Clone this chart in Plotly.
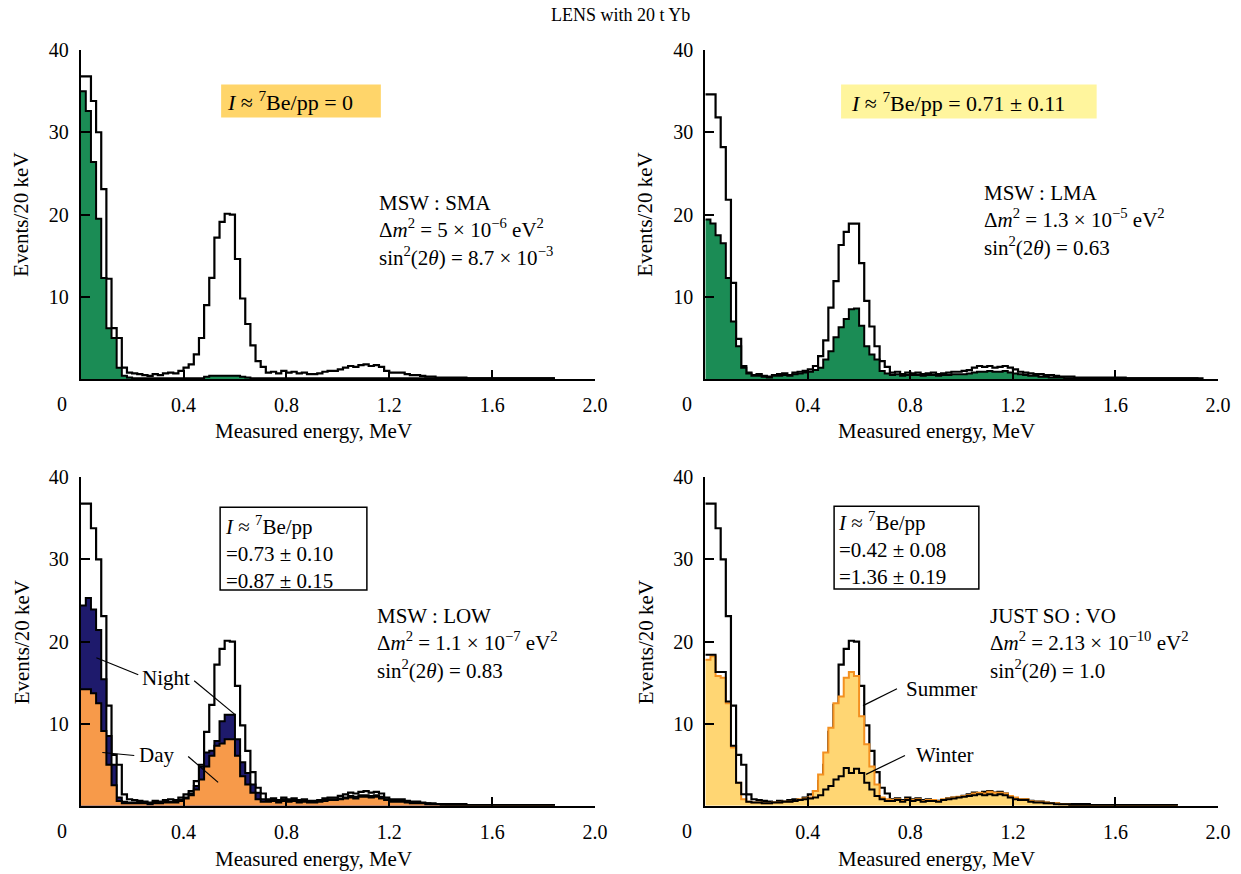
import plotly.graph_objects as go

# ---------------- data (events per 20 keV bin, bins start at 0 MeV) ----------------
bin_width_mev = 0.02

total_std = [36.8, 36.8, 33.8, 30.0, 23.1, 12.2, 6.2, 5.0, 1.4, 0.8,
             0.7, 0.6, 0.5, 0.4, 0.6, 0.5, 0.7, 0.8, 0.7, 1.0,
             1.4, 1.8, 3.0, 5.0, 9.0, 12.3, 17.2, 19.1, 20.1, 20.0,
             14.6, 9.8, 6.7, 4.1, 2.2, 1.5,
             0.8, 0.9, 0.7, 1.0, 0.8, 0.9, 0.7, 0.8, 0.6, 0.6, 0.7, 0.9, 1.0, 1.0,
             1.2, 1.4, 1.6, 1.5, 1.7, 1.8, 1.6, 1.7, 1.5, 1.0, 0.8, 0.8, 0.8,
             0.6, 0.5, 0.5, 0.4, 0.3, 0.3, 0.2, 0.2, 0.2, 0.2, 0.2, 0.2,
             0.1, 0.1, 0.1, 0.1, 0.1, 0.1, 0.1, 0.1, 0.1, 0.1, 0.1, 0.1, 0.1, 0.1, 0.1, 0.1, 0.1]

sma_osc = [35.0, 32.6, 26.4, 19.5, 12.3, 6.2, 5.0, 1.4, 0.4, 0.2,
           0.1, 0.1, 0.1, 0.1, 0.1, 0.1, 0.1, 0.1, 0.1, 0.1,
           0.1, 0.1, 0.1, 0.1, 0.3, 0.4, 0.4, 0.4, 0.4, 0.4,
           0.4, 0.3, 0.2, 0.1, 0.1, 0.1] + [0.1] * 56

total_lma = [34.6, 34.6, 31.8, 28.2, 21.8, 11.7, 4.9, 1.6, 0.8, 0.5,
             0.6, 0.4, 0.3, 0.5, 0.6, 0.7, 0.5, 0.8, 0.9, 1.0,
             1.2, 1.6, 2.8, 4.7, 8.7, 11.9, 16.3, 17.9, 18.9, 18.9,
             14.1, 9.5, 6.4, 4.0, 2.2, 1.5,
             0.8, 0.9, 0.6, 0.8, 0.7, 0.8, 0.6, 0.7, 0.8, 0.6, 0.7, 0.8, 0.9, 0.9,
             1.0, 1.1, 1.4, 1.6, 1.5, 1.6, 1.4, 1.5, 1.6, 1.4, 1.2, 0.9, 0.8,
             0.7, 0.6, 0.6, 0.5, 0.5, 0.4, 0.3, 0.3, 0.3,
             0.2, 0.2, 0.2, 0.2, 0.2, 0.2, 0.2, 0.2, 0.2, 0.2,
             0.1, 0.1, 0.1, 0.1, 0.1, 0.1, 0.1, 0.1, 0.1, 0.1, 0.1, 0.1, 0.1, 0.1]

lma_osc = [19.4, 18.9, 17.5, 16.5, 12.3, 7.0, 4.0, 1.4, 0.7, 0.4,
           0.4, 0.3, 0.2, 0.4, 0.4, 0.5, 0.4, 0.6, 0.7, 0.8,
           0.9, 1.1, 1.4, 2.4, 3.4, 5.1, 6.3, 7.3, 8.5, 8.6,
           6.5, 4.0, 3.0, 2.4, 1.0, 0.7,
           0.5, 0.6, 0.4, 0.5, 0.5, 0.5, 0.4, 0.5, 0.5, 0.4, 0.5, 0.5, 0.6, 0.6,
           0.6, 0.7, 0.8, 0.9, 0.9, 1.0, 0.9, 0.9, 1.0, 0.8, 0.7, 0.6, 0.5,
           0.4, 0.4, 0.3, 0.3, 0.2, 0.2, 0.2] + [0.1] * 27

night_low = [24.4, 25.3, 23.9, 21.4, 15.4, 8.5, 5.0, 1.0, 0.5, 0.4,
             0.4, 0.4, 0.3, 0.3, 0.4, 0.4, 0.5, 0.5, 0.5, 0.7,
             1.0, 1.5, 2.4, 4.8, 6.5, 6.7, 7.9, 10.3, 11.1, 11.1,
             8.1, 5.3, 4.0, 2.6, 1.6, 0.8,
             0.6, 0.7, 0.5, 0.8, 0.6, 0.7, 0.5, 0.6, 0.5, 0.5, 0.6, 0.7, 0.8, 0.8,
             0.9, 1.0, 1.2, 1.1, 1.3, 1.3, 1.2, 1.3, 1.1, 0.8, 0.6, 0.6, 0.6,
             0.5, 0.4, 0.4, 0.3, 0.3, 0.2, 0.2, 0.2] + [0.1] * 21

day_low = [14.2, 14.2, 13.7, 12.5, 9.1, 5.0, 2.5, 0.6, 0.3, 0.3,
           0.3, 0.3, 0.3, 0.2, 0.3, 0.3, 0.4, 0.4, 0.4, 0.6,
           0.9, 1.3, 2.0, 3.2, 4.8, 6.1, 7.3, 7.6, 8.1, 8.1,
           6.1, 3.6, 2.6, 1.6, 0.8, 0.5,
           0.5, 0.6, 0.4, 0.6, 0.5, 0.6, 0.4, 0.5, 0.4, 0.4, 0.5, 0.6, 0.7, 0.7,
           0.8, 0.9, 1.0, 0.9, 1.1, 1.1, 1.0, 1.1, 0.9, 0.7, 0.5, 0.5, 0.5,
           0.4, 0.3, 0.3, 0.3, 0.2, 0.2, 0.2, 0.1] + [0.1] * 21

summer_vo = [17.8, 18.2, 15.8, 15.6, 12.5, 7.1, 2.8, 0.8, 0.5, 0.4,
             0.4, 0.3, 0.3, 0.4, 0.4, 0.5, 0.5, 0.6, 0.8, 0.9,
             1.0, 1.8, 3.8, 6.5, 9.5, 12.5, 13.3, 15.6, 16.3, 15.8,
             10.9, 7.5, 4.8, 2.6, 1.0, 0.8,
             0.7, 0.8, 0.6, 0.8, 0.7, 0.8, 0.6, 0.7, 0.7, 0.6, 0.8, 0.9, 1.0, 1.1,
             1.2, 1.3, 1.5, 1.6, 1.5, 1.7, 1.6, 1.6, 1.5, 1.2, 1.0, 0.8, 0.8,
             0.6, 0.5, 0.5, 0.4, 0.3, 0.3, 0.2, 0.2] + [0.1] * 21

winter_vo = [18.4, 18.4, 16.3, 16.3, 12.7, 7.3, 2.8, 1.4, 0.5, 0.4,
             0.4, 0.3, 0.3, 0.4, 0.4, 0.5, 0.5, 0.6, 0.7, 0.8,
             0.9, 1.0, 1.3, 2.0, 2.4, 3.2, 3.6, 4.6, 4.0, 4.5,
             4.0, 2.8, 2.0, 1.2, 0.8, 0.6,
             0.6, 0.7, 0.5, 0.7, 0.6, 0.7, 0.5, 0.6, 0.6, 0.5, 0.7, 0.8, 0.9, 1.0,
             1.1, 1.2, 1.3, 1.4, 1.3, 1.4, 1.3, 1.4, 1.3, 1.0, 0.8, 0.7, 0.7,
             0.5, 0.4, 0.4, 0.3, 0.3, 0.2, 0.2, 0.2] + [0.1] * 21

x_tick_vals = [0.4, 0.8, 1.2, 1.6, 2.0]
x_tick_text = ["0.4", "0.8", "1.2", "1.6", "2.0"]
y_tick_vals = [10, 20, 30, 40]
y_tick_text = ["10", "20", "30", "40"]

# ---------------- helpers ----------------
W, H = 1241, 874
FONT = "Liberation Serif, Times New Roman, serif"

# small correction of the page placement seen in the photographed output
SX, OX = 0.992, -1.5
SY, OY = 0.9905, 9.2


def px(x):
    return ((x - OX) / SX) / W


def py(y):
    return 1 - ((y - OY) / SY) / H


def edges(vals):
    return [i * bin_width_mev for i in range(len(vals) + 1)]


def step_trace(vals, ax, line_color="black", width=2.2, fill=None):
    kw = dict(
        x=edges(vals), y=list(vals) + [0], mode="lines",
        line=dict(shape="hv", color=line_color, width=width),
        xaxis="x" + ax, yaxis="y" + ax, showlegend=False, hoverinfo="skip",
    )
    if fill is not None:
        kw.update(fill="tozeroy", fillcolor=fill)
    return go.Scatter(**kw)


fig = go.Figure()

# panel 1: SMA
fig.add_trace(step_trace(total_std, "", fill="white"))
fig.add_trace(step_trace(sma_osc, "", fill="#1b8c55", width=2))
# panel 2: LMA
fig.add_trace(step_trace(total_lma, "2", fill="white"))
fig.add_trace(step_trace(lma_osc, "2", fill="#1b8c55", width=2))
# panel 3: LOW
fig.add_trace(step_trace(total_std, "3", fill="white"))
fig.add_trace(step_trace(night_low, "3", fill="#1e1a6c", width=2))
fig.add_trace(step_trace(day_low, "3", fill="#f79a4a", width=2))
# panel 4: VO
fig.add_trace(step_trace(total_std, "4", fill="white"))
fig.add_trace(step_trace(summer_vo, "4", line_color="#f39020", fill="#ffd673", width=2))
fig.add_trace(step_trace(winter_vo, "4", width=2))

# ---------------- axes ----------------
xdom_l = [px(79.3), px(594.5)]
xdom_r = [px(705.0), px(1218.5)]
ydom_t = [py(378.5), py(48.3)]
ydom_b = [py(806.5), py(477.0)]

axis_common = dict(showline=True, linecolor="black", linewidth=2, ticks="inside",
                   ticklen=9, tickwidth=2, tickcolor="black", showgrid=False,
                   zeroline=False, tickfont=dict(family=FONT, size=20, color="black"))

layout_axes = {}
for name, dom, anchor in [("xaxis", xdom_l, "y"), ("xaxis2", xdom_r, "y2"),
                          ("xaxis3", xdom_l, "y3"), ("xaxis4", xdom_r, "y4")]:
    layout_axes[name] = dict(axis_common, domain=dom, anchor=anchor, range=[0, 2.0],
                             tickvals=x_tick_vals, ticktext=x_tick_text, ticklabelstandoff=7)
for name, dom, anchor in [("yaxis", ydom_t, "x"), ("yaxis2", ydom_t, "x2"),
                          ("yaxis3", ydom_b, "x3"), ("yaxis4", ydom_b, "x4")]:
    layout_axes[name] = dict(axis_common, domain=dom, anchor=anchor, range=[0, 40],
                             tickvals=y_tick_vals, ticktext=y_tick_text, ticklabelstandoff=6)

fig.update_layout(**layout_axes)

# ---------------- annotations ----------------
ann = []


def text(x, y, s, size=21, xanchor="center", yanchor="middle", align="left", angle=0):
    ann.append(dict(x=px(x), y=py(y), xref="paper", yref="paper", text=s, showarrow=False,
                    xanchor=xanchor, yanchor=yanchor, align=align, textangle=angle,
                    font=dict(family=FONT, size=size, color="black")))


text(620, 13, "LENS with 20 t Yb", size=18)

for (xl, yl) in [(61, 403), (687, 403), (61, 832), (687, 832)]:
    text(xl, yl, "0", size=20)
for (xt, yt) in [(313, 431), (937, 431), (313, 860), (937, 860)]:
    text(xt, yt, "Measured energy, MeV", size=21)
for (xt, yt) in [(20, 213), (645, 213), (20, 642), (645, 642)]:
    text(xt, yt, "Events/20 keV", size=21, angle=-90)

text(224, 99, "<i>I</i> ≈ <sup>7</sup>Be/pp = 0", size=22, xanchor="left")
text(849, 100, "<i>I</i> ≈ <sup>7</sup>Be/pp = 0.71 ± 0.11", size=22, xanchor="left")
text(222, 552, "<i>I</i> ≈ <sup>7</sup>Be/pp<br>=0.73 ± 0.10<br>=0.87 ± 0.15", size=21, xanchor="left")
text(836, 548, "<i>I</i> ≈ <sup>7</sup>Be/pp<br>=0.42 ± 0.08<br>=1.36 ± 0.19", size=21, xanchor="left")

text(376, 229, "MSW : SMA<br>Δ<i>m</i><sup>2</sup> = 5 × 10<sup>−6</sup> eV<sup>2</sup><br>"
               "sin<sup>2</sup>(2<i>θ</i>) = 8.7 × 10<sup>−3</sup>", xanchor="left")
text(982, 219, "MSW : LMA<br>Δ<i>m</i><sup>2</sup> = 1.3 × 10<sup>−5</sup> eV<sup>2</sup><br>"
               "sin<sup>2</sup>(2<i>θ</i>) = 0.63", xanchor="left")
text(374, 644, "MSW : LOW<br>Δ<i>m</i><sup>2</sup> = 1.1 × 10<sup>−7</sup> eV<sup>2</sup><br>"
               "sin<sup>2</sup>(2<i>θ</i>) = 0.83", xanchor="left")
text(988, 644, "JUST SO : VO<br>Δ<i>m</i><sup>2</sup> = 2.13 × 10<sup>−10</sup> eV<sup>2</sup><br>"
               "sin<sup>2</sup>(2<i>θ</i>) = 1.0", xanchor="left")

text(165, 678, "Night", size=21)
text(155, 756, "Day", size=21)
text(942, 689, "Summer", size=21)
text(945, 756, "Winter", size=21)

# ---------------- shapes ----------------
shapes = []


def rect(x0, y0, x1, y1, fill, border=None):
    shapes.append(dict(type="rect", xref="paper", yref="paper", x0=px(x0), x1=px(x1),
                       y0=py(y1), y1=py(y0), fillcolor=fill, layer="above",
                       line=dict(color=border or fill, width=1.5 if border else 0)))


def seg(x0, y0, x1, y1):
    shapes.append(dict(type="line", xref="paper", yref="paper", x0=px(x0), y0=py(y0),
                       x1=px(x1), y1=py(y1), line=dict(color="black", width=1.2),
                       layer="above"))


rect(220, 83, 380, 116, "#ffd56a")
rect(841, 83, 1097, 117, "#fff59d")
rect(219, 507, 366, 590, "white", border="black")
rect(834, 506, 979, 589, "white", border="black")

seg(95, 658, 137, 675)
seg(193, 681, 234, 715)
seg(101, 753, 133, 756)
seg(187, 757, 217, 783)
seg(863, 706, 897, 689)
seg(866, 775, 905, 756)

fig.update_layout(width=W, height=H, margin=dict(l=0, r=0, t=0, b=0),
                  paper_bgcolor="white", plot_bgcolor="white",
                  annotations=ann, shapes=shapes, showlegend=False)

post = """
document.documentElement.style.margin='0';
document.documentElement.style.padding='0';
document.documentElement.style.overflow='hidden';
document.body.style.margin='0';
document.body.style.padding='0';
document.body.style.overflow='hidden';
var gd = document.getElementById('{plot_id}');
gd.style.position='absolute';
gd.style.left='0px';
gd.style.top='0px';
"""

fig.write_html("out.html", post_script=post, config={"displayModeBar": False})
